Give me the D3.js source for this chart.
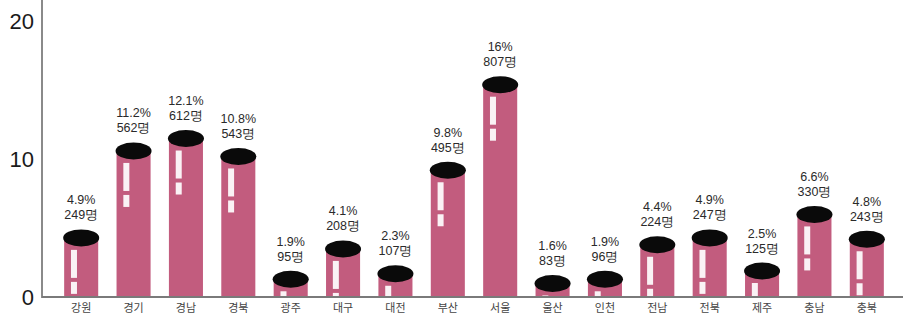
<!DOCTYPE html>
<html><head><meta charset="utf-8">
<script src="https://cdn.jsdelivr.net/npm/d3@7"></script>
<style>body{margin:0;background:#fff}svg{display:block}</style>
</head><body>
<svg id="c" width="903" height="322"></svg>
<script>
const categories = ["강원","경기","경남","경북","광주","대구","대전","부산","서울","울산","인천","전남","전북","제주","충남","충북"];
const percents = [4.9,11.2,12.1,10.8,1.9,4.1,2.3,9.8,16,1.6,1.9,4.4,4.9,2.5,6.6,4.8];
const percentLabels = ["4.9%","11.2%","12.1%","10.8%","1.9%","4.1%","2.3%","9.8%","16%","1.6%","1.9%","4.4%","4.9%","2.5%","6.6%","4.8%"];
const counts = [249,562,612,543,95,208,107,495,807,83,96,224,247,125,330,243];
const yTicks = [0,10,20];

const svg = d3.select("#c");
const x = d3.scaleBand().domain(categories).range([55,893]).paddingInner(0.35).paddingOuter(0.175);
const y = d3.scaleLinear().domain([0,20]).range([297,21]);
const ry = 8.5;
const barColor = "#c25c7e";

// y axis line
svg.append("line").attr("x1",42).attr("x2",42).attr("y1",0).attr("y2",y(0)+1)
  .attr("stroke","#8a8a8a").attr("stroke-width",2);

const yAxis = d3.axisLeft(y).tickValues(yTicks).tickSize(0).tickPadding(8).tickFormat(d3.format("d"));
const gy = svg.append("g").attr("transform","translate(42,0)").call(yAxis);
gy.select(".domain").remove();
gy.selectAll("text").attr("font-family","Liberation Sans, Arial, sans-serif").attr("font-size",22)
  .attr("fill","#1a1a1a").attr("dy","0.35em");

const data = categories.map((c,i)=>({c, p:percents[i], pl:percentLabels[i], n:counts[i]}));
const g = svg.append("g");
const bw = x.bandwidth();

// cylinder bodies
g.selectAll("rect.bar").data(data).join("rect").attr("class","bar")
  .attr("x",d=>x(d.c)).attr("width",bw)
  .attr("y",d=>y(d.p)+ry).attr("height",d=>Math.max(0,y(0)-y(d.p)-ry))
  .attr("fill",barColor);

// highlights
const hl = (d, off, len) => {
  const top = y(d.p)+ry+off;
  const bot = Math.min(top+len, y(0)-1);
  return {top, h: Math.max(0, bot-top)};
};
g.selectAll("rect.hl1").data(data).join("rect").attr("class","hl1")
  .attr("x",d=>x(d.c)+bw*0.2).attr("width",6)
  .attr("y",d=>hl(d,12,28).top).attr("height",d=>hl(d,12,28).h)
  .attr("fill","#fff").attr("opacity",0.92);
g.selectAll("rect.hl2").data(data).join("rect").attr("class","hl2")
  .attr("x",d=>x(d.c)+bw*0.2).attr("width",6)
  .attr("y",d=>hl(d,44,12).top).attr("height",d=>hl(d,44,12).h)
  .attr("fill","#fff").attr("opacity",0.92);

// tops
g.selectAll("ellipse").data(data).join("ellipse")
  .attr("cx",d=>x(d.c)+bw/2).attr("cy",d=>y(d.p)+ry)
  .attr("rx",bw/2+1).attr("ry",ry).attr("fill","#0a0a0a");

// baseline
svg.append("line").attr("x1",42).attr("x2",903).attr("y1",y(0)).attr("y2",y(0))
  .attr("stroke","#7a7a7a").attr("stroke-width",2);

// value labels
const lab = g.selectAll("g.lab").data(data).join("g").attr("class","lab")
  .attr("transform",d=>`translate(${x(d.c)+bw/2},${y(d.p)})`)
  .attr("font-family","Liberation Sans, Arial, sans-serif").attr("font-size",12.5)
  .attr("fill","#2a2a2a").attr("text-anchor","middle");
lab.append("text").attr("y",-25).text(d=>d.pl);
lab.append("text").attr("y",-10).text(d=>d.n+"명");

// category labels
svg.append("g").selectAll("text").data(categories).join("text")
  .attr("x",d=>x(d)+bw/2).attr("y",312).attr("text-anchor","middle")
  .attr("font-family","Noto Sans CJK KR, sans-serif").attr("font-size",11)
  .attr("fill","#444").text(d=>d);
</script>
</body></html>
